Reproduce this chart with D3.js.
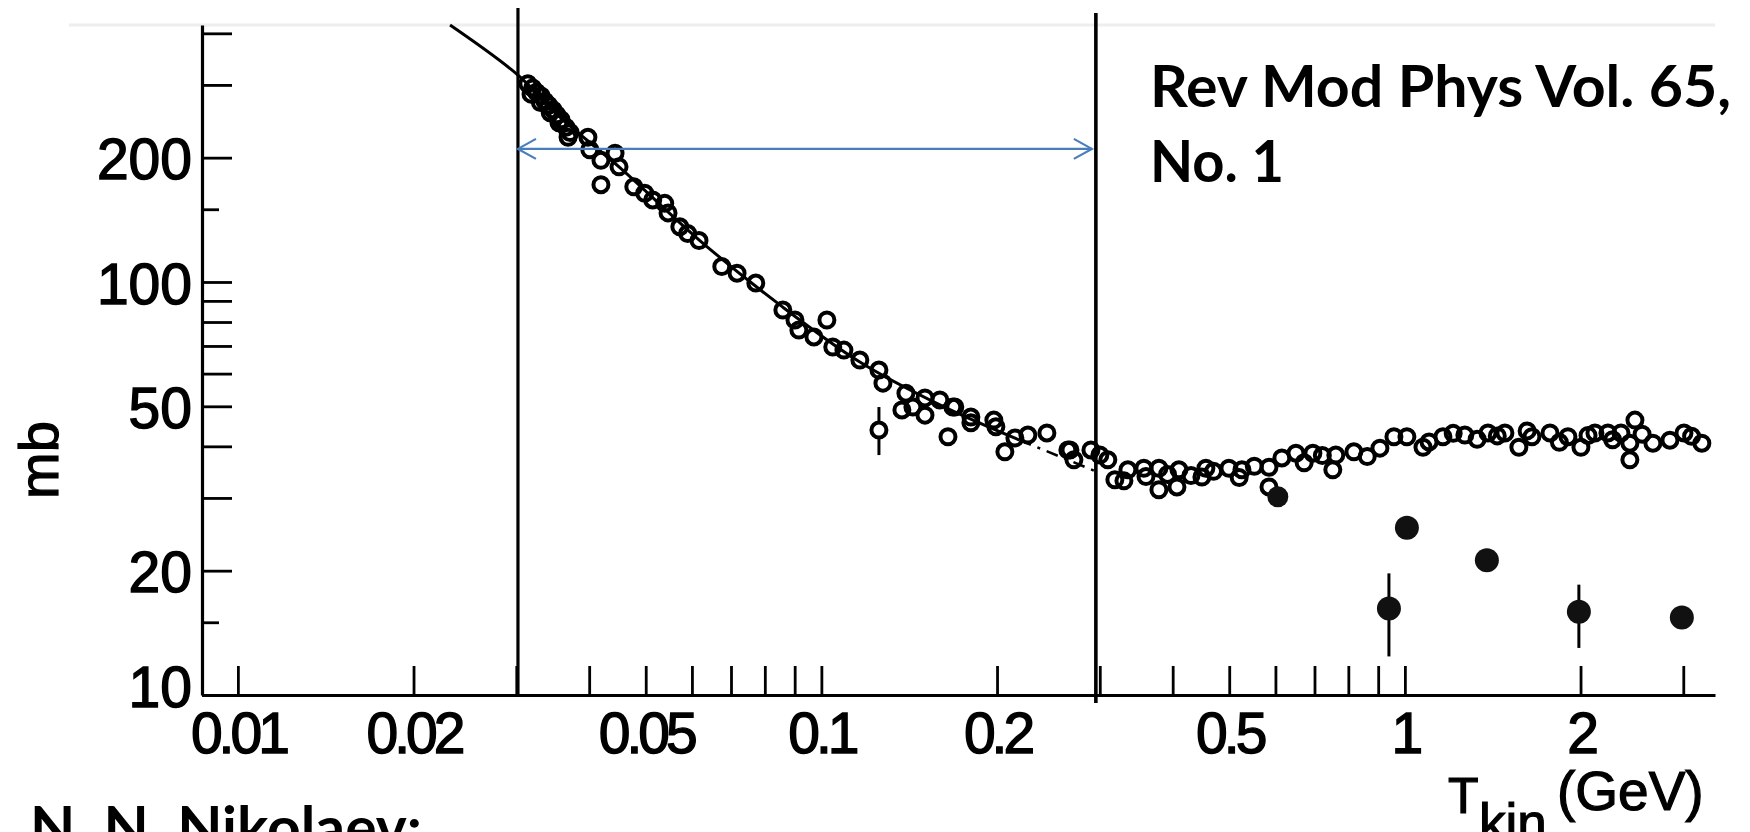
<!DOCTYPE html>
<html><head><meta charset="utf-8">
<script src="https://cdn.jsdelivr.net/npm/d3@7"></script>
<style>html,body{margin:0;padding:0;background:#fff;overflow:hidden}</style>
</head><body>
<svg id="chart" width="1750" height="832"></svg>
<script>
// ---------- data (T_kin in GeV, sigma in mb) ----------
const xDomain = [0.00868, 3.40];
const yDomain = [10, 419];
const xTicks = [0.01,0.02,0.03,0.04,0.05,0.06,0.07,0.08,0.09,0.1,0.2,0.3,0.4,0.5,0.6,0.7,0.8,0.9,1,2,3];
const xLabels = [0.01,0.02,0.05,0.1,0.2,0.5,1,2];
const yTicksMajor = [400,300,200,100,90,80,70,60,50,40,30,20,10];
const yTicksMinor = [150,15];
const yLabels = [200,100,50,20,10];

const openPoints = [
 [0.0314,302],[0.0320,295],[0.0325,288],[0.0331,282],[0.0336,274],[0.0341,268],[0.0347,261],[0.0352,254],[0.0358,247],[0.0365,237],[0.0371,230],
 [0.0318,285],[0.0330,272],[0.0343,257],[0.0355,243],[0.0368,224],
 [0.0398,224],[0.0401,209],[0.0419,197],[0.0443,205],[0.0450,190],[0.0419,172],[0.0477,170],[0.0498,164],[0.0514,158],[0.0539,155],[0.0546,147],[0.0572,136],[0.0590,131],[0.0617,126],
 [0.0675,109],[0.0717,105],[0.0772,99.4],[0.0859,85.5],[0.0901,80.9],[0.0915,76.5],[0.1022,80.9],[0.0971,73.6],[0.1046,69.6],[0.1093,68.4],[0.1164,64.7],[0.1255,61.2],[0.1275,56.9],[0.1396,53.8],[0.1435,49.8],[0.1505,52.4],[0.1596,51.8],[0.1693,49.8],[0.1804,47.1],[0.1975,46.3],
 [0.1374,49.0],[0.1505,47.6],[0.1680,49.8],[0.1648,42.2],[0.1804,45.6],[0.1991,44.6],[0.2063,38.8],[0.2146,41.9],[0.2259,42.6],[0.2435,43.1],[0.2667,39.2],[0.2709,37.1],[0.2897,39.2],
 [0.2645,39.2],[0.3001,38.1],[0.3097,37.1],[0.3184,33.2],[0.3352,35.1],[0.3570,35.4],[0.3788,35.4],[0.3788,31.4],[0.4068,31.9],[0.4100,35.1],[0.4489,33.7],[0.4560,35.4],[0.4994,35.4],[0.5257,35.1],[0.5849,35.6],[0.5849,31.9],[0.6154,37.5],[0.6506,38.5],[0.6955,38.5],[0.7525,35.1],[0.7614,38.1],[0.8177,38.8],[0.9062,39.6],[0.9577,42.2],[1.008,42.2],[1.074,39.8],[1.162,42.2],[1.267,42.6],[1.388,43.1],[1.484,43.1],[1.568,39.8],[1.651,42.2],[1.773,43.1],[1.903,42.2],[2.003,39.8],[2.117,43.1],[2.228,43.1],[2.346,43.1],[2.479,46.3],[2.430,40.7],[2.430,37.1],[2.661,40.7],[2.846,41.4],[3.008,43.1],[3.228,40.7],
 [0.330,33.0],[0.360,33.8],[0.392,34.2],[0.430,34.0],[0.470,34.8],[0.520,33.6],[0.552,35.8],
 [0.672,36.5],[0.722,38.0],[0.862,37.8],
 [1.100,41.0],[1.210,43.0],[1.330,41.6],[1.440,42.4],[1.620,43.6],[1.840,40.9],[2.060,42.5],[2.270,41.5],[2.550,42.8],[3.100,42.3]
];
// open point with error bar: [T, sigma, low, high]
const openErr = [[0.1255,43.8,38.1,49.8]];
// filled points: [T, sigma, low, high] (null = no bar)
const filledPoints = [
 [0.6057,30.2,null,null],[1.008,25.4,null,null],[1.382,21.2,null,null],
 [0.939,16.2,12.4,19.7],[1.987,15.9,13.0,18.5],[2.983,15.4,null,null]
];
const fitSolid = [[0.0231,419],[0.0302,317],[0.0356,251],[0.0452,189],[0.0619,126],[0.0849,88.0],[0.1164,64.0],[0.1596,50.4],[0.2188,41.4]];
const fitDashed = [[0.2188,41.4],[0.2967,34.7]];
const rangeLines = [0.0302, 0.2954];
const arrowLevel = 210;

// ---------- drawing ----------
const svg = d3.select("#chart");
svg.append("rect").attr("width",1750).attr("height",832).attr("fill","#fff");
const x = d3.scaleLog().domain(xDomain).range([202,1715]);
const y = d3.scaleLog().domain(yDomain).range([695,25]);

// faint top rule
svg.append("line").attr("x1",69).attr("x2",x.range()[1]).attr("y1",y.range()[1]).attr("y2",y.range()[1])
  .attr("stroke","#eeeeee").attr("stroke-width",3);

const tickFont = "'Liberation Sans', Arial, sans-serif";

// y axis
const gy = svg.append("g").attr("transform",`translate(${x.range()[0]},0)`)
  .call(d3.axisLeft(y).tickValues(yTicksMajor).tickSize(-30).tickSizeOuter(0).tickPadding(10)
    .tickFormat(d => yLabels.includes(d) ? String(d) : ""));
const gy2 = svg.append("g").attr("transform",`translate(${x.range()[0]},0)`)
  .call(d3.axisLeft(y).tickValues(yTicksMinor).tickSize(-17).tickFormat(""));
gy2.select(".domain").remove();

// x axis
const gx = svg.append("g").attr("transform",`translate(0,${y.range()[0]})`)
  .call(d3.axisBottom(x).tickValues(xTicks).tickSize(-29).tickSizeOuter(0).tickPadding(18)
    .tickFormat(d => xLabels.includes(d) ? String(d) : ""));

[gy,gy2,gx].forEach(g=>{
  g.attr("font-family",tickFont).attr("font-size",57);
  g.selectAll("path.domain").attr("stroke","#000").attr("stroke-width",3.2);
  g.selectAll(".tick line").attr("stroke","#000").attr("stroke-width",2.8);
  g.selectAll("text").attr("fill","#000").attr("stroke","#000").attr("stroke-width",1.4);
});
gy.selectAll(".tick text").attr("dy", d => d === 10 ? "0.2em" : "0.37em");
gx.selectAll(".tick text").attr("letter-spacing", -4);

// fit curve
const line = d3.line().x(d=>x(d[0])).y(d=>y(d[1])).curve(d3.curveCatmullRom);
svg.append("path").attr("d",line(fitSolid)).attr("fill","none").attr("stroke","#000").attr("stroke-width",3);
svg.append("path").attr("d",line(fitDashed)).attr("fill","none").attr("stroke","#000").attr("stroke-width",2.5)
  .attr("stroke-dasharray","12,7,3,7");

// vertical range lines
svg.append("line").attr("x1",x(rangeLines[0])).attr("x2",x(rangeLines[0])).attr("y1",8).attr("y2",y.range()[0])
  .attr("stroke","#000").attr("stroke-width",3.2);
svg.append("line").attr("x1",x(rangeLines[1])).attr("x2",x(rangeLines[1])).attr("y1",13).attr("y2",y.range()[0]+8)
  .attr("stroke","#000").attr("stroke-width",3.6);

// data: open circles
svg.append("g").selectAll("circle").data(openPoints).join("circle")
  .attr("cx",d=>x(d[0])).attr("cy",d=>y(d[1])).attr("r",7.5)
  .attr("fill","none").attr("stroke","#000").attr("stroke-width",4);
const oe = svg.append("g");
oe.selectAll("line").data(openErr).join("line")
  .attr("x1",d=>x(d[0])).attr("x2",d=>x(d[0])).attr("y1",d=>y(d[2])).attr("y2",d=>y(d[3]))
  .attr("stroke","#000").attr("stroke-width",3);
oe.selectAll("circle").data(openErr).join("circle")
  .attr("cx",d=>x(d[0])).attr("cy",d=>y(d[1])).attr("r",7.5)
  .attr("fill","#fff").attr("stroke","#000").attr("stroke-width",4);

// filled points
const fg = svg.append("g");
fg.selectAll("line").data(filledPoints.filter(d=>d[2]!==null)).join("line")
  .attr("x1",d=>x(d[0])).attr("x2",d=>x(d[0])).attr("y1",d=>y(d[2])).attr("y2",d=>y(d[3]))
  .attr("stroke","#000").attr("stroke-width",3);
fg.selectAll("circle").data(filledPoints).join("circle")
  .attr("cx",d=>x(d[0])).attr("cy",d=>y(d[1])).attr("r",(d,i)=> i===0 ? 10.5 : 12)
  .attr("fill","#111");

// blue double arrow
const ax1 = x(rangeLines[0]), ax2 = x(rangeLines[1]) - 4, ay = y(arrowLevel);
const blue = "#4a7ebb";
svg.append("line").attr("x1",ax1).attr("x2",ax2).attr("y1",ay).attr("y2",ay).attr("stroke",blue).attr("stroke-width",2.2);
svg.append("polyline").attr("points",`${ax1+18},${ay-10} ${ax1},${ay} ${ax1+18},${ay+10}`)
  .attr("fill","none").attr("stroke",blue).attr("stroke-width",2.2);
svg.append("polyline").attr("points",`${ax2-18},${ay-10} ${ax2},${ay} ${ax2-18},${ay+10}`)
  .attr("fill","none").attr("stroke",blue).attr("stroke-width",2.2);

// axis titles
const title = (sel)=>sel.attr("font-family",tickFont).attr("fill","#000").attr("stroke","#000").attr("stroke-width",1.2);
svg.append("text").attr("transform","translate(58,460) rotate(-90)").attr("text-anchor","middle")
  .attr("font-size",56).call(title).text("mb");
svg.append("text").attr("x",1448).attr("y",813).attr("font-size",50).call(title).text("T");
svg.append("text").attr("x",1479).attr("y",841).attr("font-size",53).call(title).text("kin");
svg.append("text").attr("x",1557).attr("y",810).attr("font-size",55).call(title).text("(GeV)");

// annotations
const boldFont = "Lato, 'Open Sans', sans-serif";
svg.append("text").attr("x",1150).attr("y",107).attr("font-family",boldFont).attr("font-weight",700).attr("font-size",58)
  .attr("textLength",581).attr("lengthAdjust","spacingAndGlyphs").attr("fill","#000").text("Rev Mod Phys Vol. 65,");
svg.append("text").attr("x",1150).attr("y",182).attr("font-family",boldFont).attr("font-weight",700).attr("font-size",58)
  .attr("textLength",134).attr("lengthAdjust","spacingAndGlyphs").attr("fill","#000").text("No. 1");
svg.append("text").attr("x",30).attr("y",848).attr("font-family",boldFont).attr("font-weight",700).attr("font-size",58)
  .attr("textLength",392).attr("lengthAdjust","spacingAndGlyphs").attr("fill","#000").text("N. N. Nikolaev:");
</script>
</body></html>
